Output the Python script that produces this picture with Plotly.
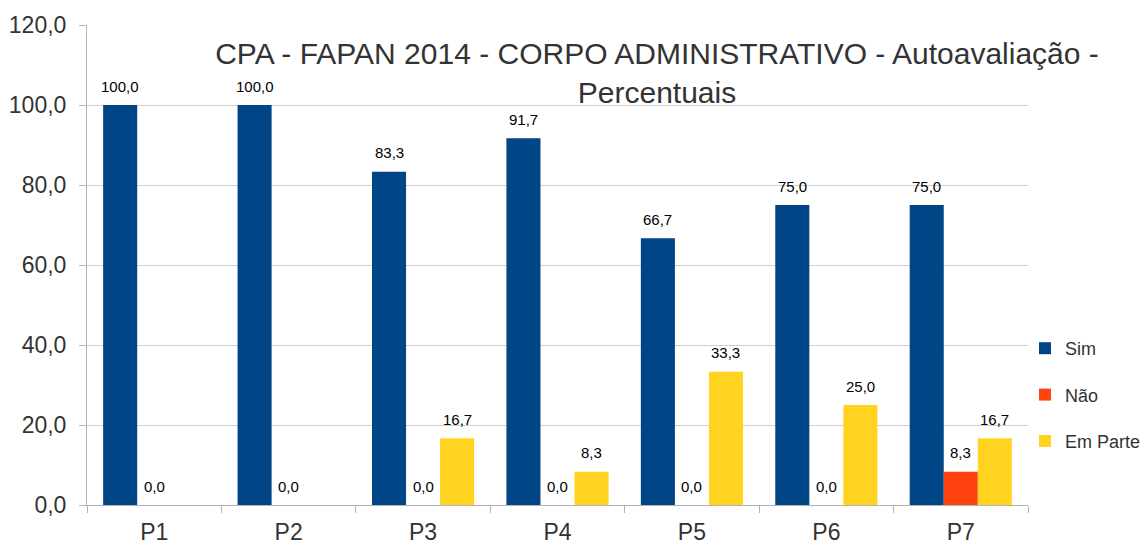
import plotly.graph_objects as go

categories = ["P1", "P2", "P3", "P4", "P5", "P6", "P7"]
sim = [100.0, 100.0, 83.3, 91.7, 66.7, 75.0, 75.0]
nao = [0.0, 0.0, 0.0, 0.0, 0.0, 0.0, 8.3]
em_parte = [None, None, 16.7, 8.3, 33.3, 25.0, 16.7]
y_ticks = [0, 20, 40, 60, 80, 100, 120]

series = [("Sim", sim, "#004586"), ("Não", nao, "#ff420e"), ("Em Parte", em_parte, "#ffd320")]

W, H = 1143, 541
ML, MR, MT, MB = 87, 115, 25, 36
BARGAP = 0.24
bar_px = (W - ML - MR) / len(categories) * (1 - BARGAP) / len(series)

fig = go.Figure()
for i, (name, vals, color) in enumerate(series):
    fig.add_trace(go.Bar(
        x=categories, y=vals, name=name, legendgroup=name,
        marker=dict(color=color, line=dict(width=0)),
    ))
    for cat, v in zip(categories, vals):
        if v is None:
            continue
        fig.add_annotation(
            x=cat, y=v, xref="x", yref="y",
            text=f"{v:.1f}".replace(".", ","), showarrow=False,
            xshift=(i - 1) * bar_px, yshift=19, yanchor="middle", xanchor="center",
            font=dict(family="Liberation Sans", size=15, color="#000000"),
        )

fig.update_layout(
    width=W, height=H,
    margin=dict(l=ML, r=MR, t=MT, b=MB, autoexpand=False),
    paper_bgcolor="white", plot_bgcolor="white",
    separators=",.",
    barmode="group", bargap=BARGAP, bargroupgap=0,
    font=dict(family="Liberation Sans", color="#333333"),
    title=dict(
        text="CPA - FAPAN 2014 - CORPO ADMINISTRATIVO - Autoavaliação -<br>Percentuais",
        x=657/W, xanchor="center", y=1 - 64/H, yanchor="top",
        font=dict(family="Liberation Sans", size=30, color="#333333"),
    ),
    legend=dict(
        xref="container", yref="container",
        x=1025/W, xanchor="left", y=1 - 395/H, yanchor="middle",
        font=dict(family="Liberation Sans", size=18, color="#333333"),
        tracegroupgap=20, itemwidth=30, bgcolor="rgba(0,0,0,0)",
    ),
    showlegend=True,
)
fig.update_yaxes(
    range=[0, 120], tickvals=y_ticks, tickformat=".1f", automargin=False,
    showgrid=True, gridcolor="#d0d0d0", gridwidth=1,
    showline=True, linecolor="#b3b3b3", ticks="outside", ticklen=7, tickcolor="#b3b3b3",
    ticklabelstandoff=8,
    tickfont=dict(family="Liberation Sans", size=23, color="#333333"),
    zeroline=False,
)
fig.update_xaxes(
    showline=True, linecolor="#b3b3b3", automargin=False,
    ticks="outside", ticklen=7, tickcolor="#b3b3b3", tickson="boundaries",
    ticklabelstandoff=6,
    tickfont=dict(family="Liberation Sans", size=23, color="#333333"),
    showgrid=False,
)
fig.write_html("out.html", config={"displayModeBar": False},
               post_script="document.body.style.margin='0px';")
